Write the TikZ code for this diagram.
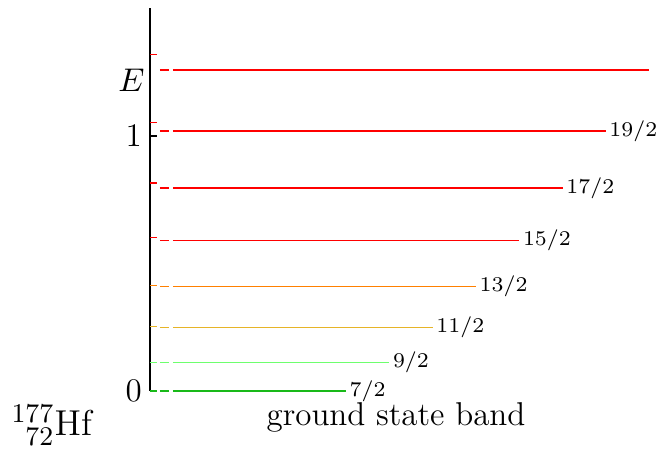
\documentclass[tikz,border=0pt]{standalone}
\usepackage{amsmath}
\usepackage{tikz}

\begin{document}
\begin{tikzpicture}[x=0.33333pt,y=-0.33333pt]
    \definecolor{lv7}{RGB}{25,185,25}
    \definecolor{lv9}{RGB}{110,255,110}
    \definecolor{lv11}{RGB}{230,180,40}
    \definecolor{lv13}{RGB}{255,128,0}
    \definecolor{lvhi}{RGB}{255,0,0}
    \tikzset{
      lvl/.style={line width=0.5pt},
      spin/.style={anchor=west,inner sep=1pt,text=black,font=\fontsize{7}{8}\selectfont},
      axlab/.style={anchor=east,inner sep=2.5pt,font=\fontsize{11}{13}\selectfont}
    }
    \useasboundingbox (0,0) rectangle (665,452);
    % energy axis
    \coordinate (axtop) at (150,8);
    \coordinate (axbot) at (150,391);
    \draw[line width=0.6pt] (axbot) -- (axtop);
    \draw[lvl] (150,136) -- (157,136);
    \draw[lvl] (150,391) -- (157,391);
    \node[axlab] (one) at (150,136) {1};
    \node[axlab] (zero) at (150,391) {0};
    \node[axlab,inner sep=1pt] (elab) at (148,80.5) {$E$};
    % rotor ticks
    \draw[lvl,lv7] (150,391) -- (157,391);
    \draw[lvl,lv9] (150,362.3) -- (157,362.3);
    \draw[lvl,lv11] (150,326.7) -- (157,326.7);
    \draw[lvl,lv13] (150,285.7) -- (157,285.7);
    \draw[lvl,lvhi] (150,237.3) -- (157,237.3);
    \draw[lvl,lvhi] (150,183) -- (157,183);
    \draw[lvl,lvhi] (150,122.3) -- (157,122.3);
    \draw[lvl,lvhi] (150,54.3) -- (157,54.3);
    % levels
    \draw[lvl,lv7] (160,391) -- (169.3,391) (173,391) -- (346,391) node[spin] (j7) {7/2};
    \draw[lvl,lv9] (160,362.3) -- (169.3,362.3) (173,362.3) -- (389.3,362.3) node[spin] (j9) {9/2};
    \draw[lvl,lv11] (160,327.3) -- (169.3,327.3) (173,327.3) -- (432.7,327.3) node[spin] (j11) {11/2};
    \draw[lvl,lv13] (160,286.7) -- (169.3,286.7) (173,286.7) -- (476,286.7) node[spin] (j13) {13/2};
    \draw[lvl,lvhi] (160,240.3) -- (169.3,240.3) (173,240.3) -- (519.3,240.3) node[spin] (j15) {15/2};
    \draw[lvl,lvhi] (160,188) -- (169.3,188) (173,188) -- (562.7,188) node[spin] (j17) {17/2};
    \draw[lvl,lvhi] (160,131) -- (169.3,131) (173,131) -- (605.7,131) node[spin] (j19) {19/2};
    \draw[lvl,lvhi] (160,70) -- (169.3,70) (173,70) -- (649.3,70);
    % captions
    \node[anchor=base,inner sep=0,font=\fontsize{11}{13}\selectfont] (band) at (396,425.5) {ground state band};
    \node[anchor=base west,inner sep=0,font=\fontsize{13}{15}\selectfont] (nuc) at (11,435.7) {${}^{177}_{\phantom{1}72}\mathrm{Hf}$};
\end{tikzpicture}
\end{document}
